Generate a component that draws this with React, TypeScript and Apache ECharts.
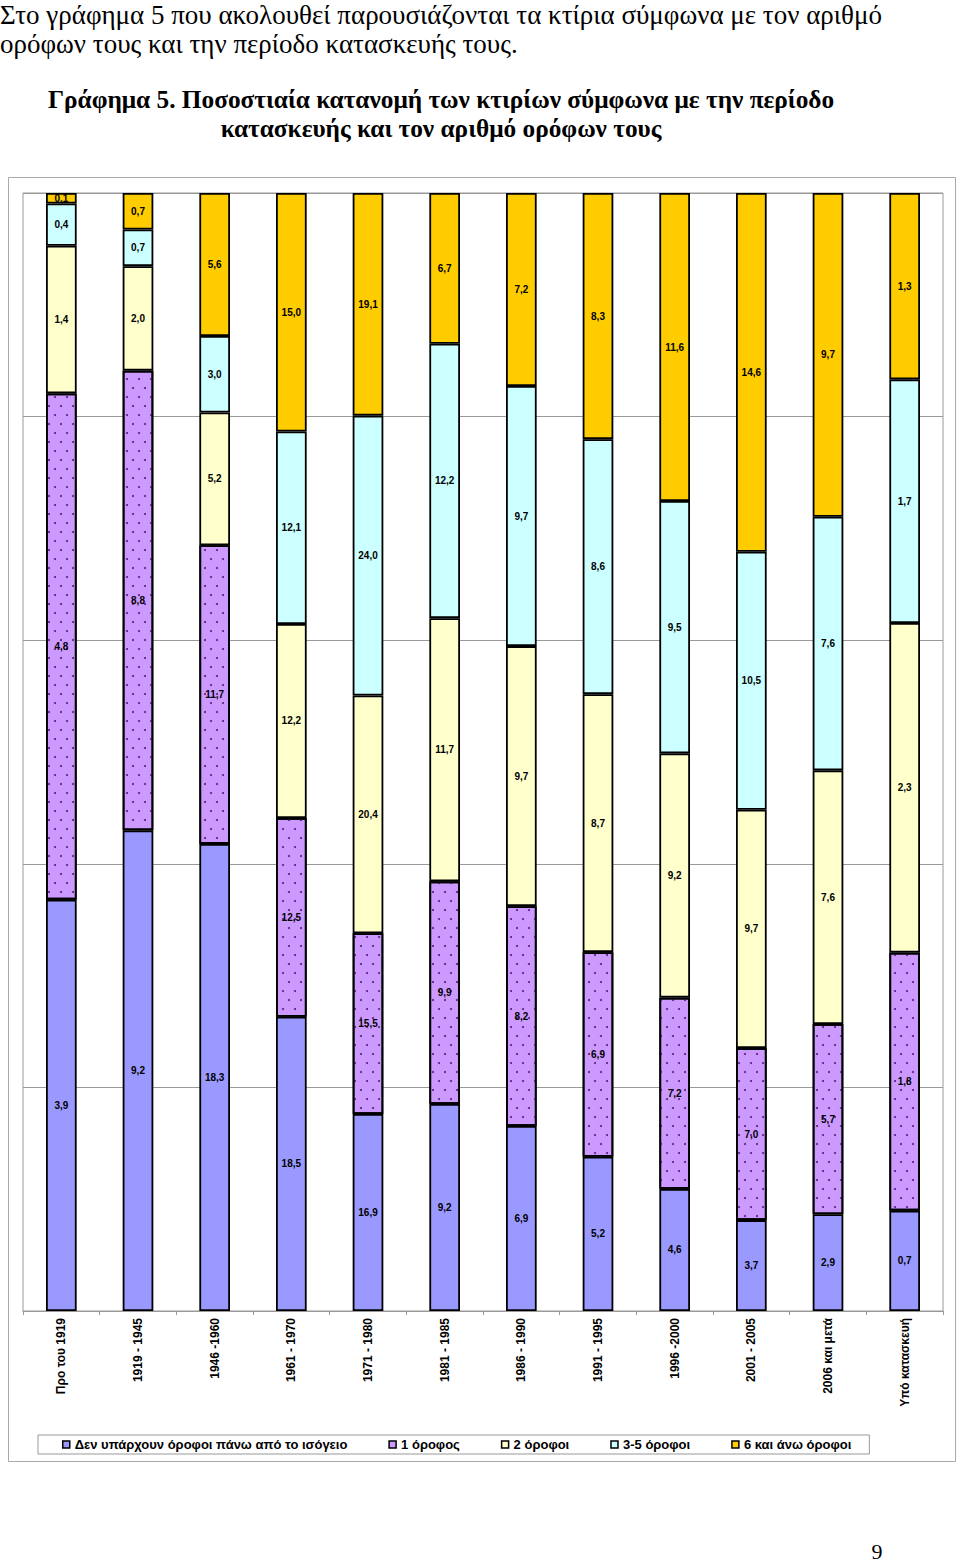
import React, { useEffect, useRef } from "react";
import * as echarts from "echarts";

const categories = [
  "Προ του 1919",
  "1919 - 1945",
  "1946 -1960",
  "1961 - 1970",
  "1971 - 1980",
  "1981 - 1985",
  "1986 - 1990",
  "1991 - 1995",
  "1996 -2000",
  "2001 - 2005",
  "2006 και μετά",
  "Υπό κατασκευή",
];

const seriesNames = [
  "Δεν υπάρχουν όροφοι πάνω από το ισόγειο",
  "1 όροφος",
  "2 όροφοι",
  "3-5 όροφοι",
  "6 και άνω όροφοι",
];

const noFloors = [3.9, 9.2, 18.3, 18.5, 16.9, 9.2, 6.9, 5.2, 4.6, 3.7, 2.9, 0.7];
const oneFloor = [4.8, 8.8, 11.7, 12.5, 15.5, 9.9, 8.2, 6.9, 7.2, 7.0, 5.7, 1.8];
const twoFloors = [1.4, 2.0, 5.2, 12.2, 20.4, 11.7, 9.7, 8.7, 9.2, 9.7, 7.6, 2.3];
const threeToFive = [0.4, 0.7, 3.0, 12.1, 24.0, 12.2, 9.7, 8.6, 9.5, 10.5, 7.6, 1.7];
const sixPlus = [0.1, 0.7, 5.6, 15.0, 19.1, 6.7, 7.2, 8.3, 11.6, 14.6, 9.7, 1.3];

const seriesValues = [noFloors, oneFloor, twoFloors, threeToFive, sixPlus];
const seriesColors = ["#9999FF", "#CC99FF", "#FFFFCC", "#CCFFFF", "#FFCC00"];

export default function App() {
  const ref = useRef<HTMLDivElement>(null);

  useEffect(() => {
    if (!ref.current) return;
    const chart = echarts.init(ref.current, undefined, { renderer: "svg" });

    const totals = categories.map((_, i) =>
      seriesValues.reduce((s, arr) => s + arr[i], 0)
    );

    const sans = "Liberation Sans";
    const serif = "Liberation Serif";

    const series = seriesValues.map((arr, si) => ({
      name: seriesNames[si],
      type: "bar",
      stack: "total",
      barWidth: "40%",
      data: arr.map((v, i) => (v / totals[i]) * 100),
      itemStyle: {
        color: seriesColors[si],
        borderColor: "#000",
        borderWidth: 1.8,
        ...(si === 1
          ? {
              decal: {
                symbol: "circle",
                symbolSize: 1,
                color: "#5a1f7a",
                dashArrayX: [
                  [2, 10],
                  [0, 6, 2, 4],
                ],
                dashArrayY: [2, 7],
              },
            }
          : {}),
      },
      label: {
        show: true,
        position: "inside",
        color: "#000",
        fontSize: 10,
        fontWeight: "bold",
        fontFamily: sans,
        formatter: (p: any) => arr[p.dataIndex].toFixed(1).replace(".", ","),
      },
      emphasis: { disabled: true },
    }));

    const textEl = (
      text: string,
      x: number,
      y: number,
      size: number,
      bold: boolean,
      align: string
    ) => ({
      type: "text",
      x,
      y,
      style: {
        text,
        fontFamily: serif,
        fontSize: size,
        fontWeight: bold ? "bold" : "normal",
        fill: "#000",
        align,
        verticalAlign: "middle",
      },
    });

    chart.setOption({
      animation: false,
      backgroundColor: "#fff",
      grid: {
        left: 23,
        right: 17,
        top: 193,
        bottom: 254,
        show: true,
        borderColor: "#999",
        borderWidth: 1,
        backgroundColor: "transparent",
        containLabel: false,
      },
      xAxis: {
        type: "category",
        data: categories,
        axisLine: { show: true, lineStyle: { color: "#999", width: 1 } },
        axisTick: { show: true, length: 4, lineStyle: { color: "#999" } },
        axisLabel: {
          interval: 0,
          rotate: 90,
          margin: 7,
          color: "#000",
          fontSize: 12,
          fontWeight: "bold",
          fontFamily: sans,
        },
      },
      yAxis: {
        type: "value",
        min: 0,
        max: 100,
        interval: 20,
        axisLabel: { show: false },
        axisLine: { show: false },
        axisTick: { show: false },
        splitLine: { show: true, lineStyle: { color: "#999", width: 1 } },
      },
      legend: {
        left: 38,
        top: 1435,
        orient: "horizontal",
        itemWidth: 7,
        itemHeight: 7,
        itemGap: 41,
        padding: [3, 18, 3, 24],
        borderColor: "#999",
        borderWidth: 1,
        icon: "rect",
        selectedMode: false,
        itemStyle: { borderColor: "#000", borderWidth: 1.5 },
        textStyle: {
          color: "#000",
          fontSize: 13,
          fontWeight: "bold",
          fontFamily: sans,
        },
        data: seriesNames.map((n, i) => ({
          name: n,
          itemStyle: { color: seriesColors[i], decal: "none" },
        })),
      },
      graphic: [
        {
          type: "rect",
          z: -10,
          shape: { x: 8.5, y: 177.5, width: 947, height: 1284 },
          style: { fill: "none", stroke: "#aaa", lineWidth: 1 },
          silent: true,
        },
        textEl(
          "Στο γράφημα 5 που ακολουθεί παρουσιάζονται τα κτίρια σύμφωνα με τον αριθμό",
          0,
          15,
          27,
          false,
          "left"
        ),
        textEl("ορόφων τους και την περίοδο κατασκευής τους.", 0, 44, 27, false, "left"),
        textEl(
          "Γράφημα 5. Ποσοστιαία κατανομή των κτιρίων σύμφωνα με την περίοδο",
          441,
          99,
          25.3,
          true,
          "center"
        ),
        textEl("κατασκευής και τον αριθμό ορόφων τους", 441, 128, 25.3, true, "center"),
        textEl("9", 877, 1551, 22, false, "center"),
      ],
      series,
    });

    return () => chart.dispose();
  }, []);

  return (
    <div
      ref={ref}
      style={{
        position: "absolute",
        left: 0,
        top: 0,
        width: 960,
        height: 1565,
      }}
    />
  );
}
